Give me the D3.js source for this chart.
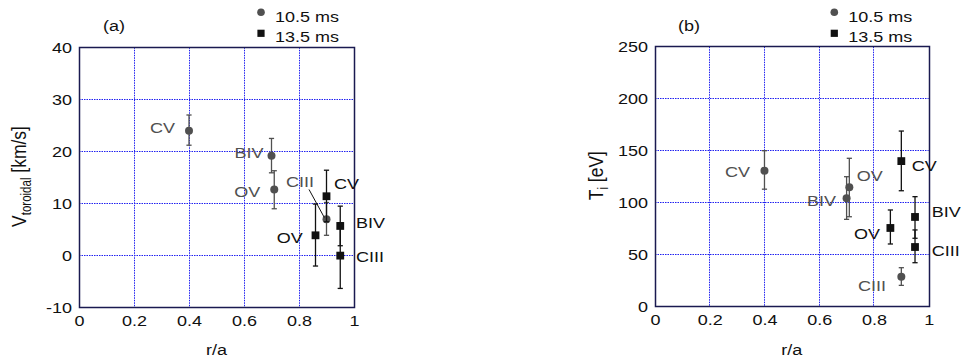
<!DOCTYPE html>
<html><head><meta charset="utf-8">
<script src="https://cdn.jsdelivr.net/npm/d3@7"></script>
<style>
html,body{margin:0;padding:0;background:#fff;}
svg{display:block;font-family:"Liberation Sans",Arial,sans-serif;}
</style></head>
<body><svg id="chart" width="961" height="361"></svg>
<script>
// ---------------- data ----------------
const species = ["CV", "BIV", "OV", "CIII"];
const seriesNames = ["10.5 ms", "13.5 ms"];
const xTicks = [0, 0.2, 0.4, 0.6, 0.8, 1];
const yTicksA = [-10, 0, 10, 20, 30, 40];
const yTicksB = [0, 50, 100, 150, 200, 250];

// panel (a): toroidal velocity [km/s]
const aR105  = [0.40, 0.70, 0.71, 0.90];
const aV105  = [24.0, 19.2, 12.7, 7.0];
const aLo105 = [21.2, 15.9, 9.0, 3.9];
const aHi105 = [27.0, 22.5, 16.3, 10.2];
const aR135  = [0.90, 0.95, 0.86, 0.95];
const aV135  = [11.4, 5.7, 3.9, 0.0];
const aLo135 = [6.5, 1.9, -2.0, -6.3];
const aHi135 = [16.4, 9.5, 9.9, 6.3];

// panel (b): ion temperature [eV]
const bR105  = [0.40, 0.70, 0.71, 0.90];
const bT105  = [130.8, 104.2, 114.8, 28.9];
const bLo105 = [113.0, 84.0, 86.5, 20.5];
const bHi105 = [150.0, 125.0, 142.7, 37.5];
const bR135  = [0.90, 0.95, 0.86, 0.95];
const bT135  = [140.0, 86.3, 75.7, 57.4];
const bLo135 = [111.5, 65.8, 60.3, 42.3];
const bHi135 = [168.9, 105.8, 93.0, 73.8];

// ---------------- layout (label placement, px offsets) ----------------
const labA105 = [[-14,-2.6,"end"],[-8,-3,"end"],[-14,3,"end"],[-26.5,-37.3,"middle"]];
const labA135 = [[7.5,-12,"start"],[15.7,-2.7,"start"],[-12.8,3,"end"],[15.7,1.4,"start"]];
const labB105 = [[-14.5,1,"end"],[-10.6,2.4,"end"],[7.4,-11.6,"start"],[-15.3,9,"end"]];
const labB135 = [[10.4,4.7,"start"],[16.7,-4.6,"start"],[-10.4,6.3,"end"],[16.7,3.7,"start"]];

const GREY = "#505050", BLACK = "#111111", GRID = "#2020f0";
const SX = 1.2, FS = 15;
const fmt = d => d3.format("~g")(d).replace("\u2212", "-");
const snap = v => Math.round(v - 0.5) + 0.5;

const svg = d3.select("#chart");

function stext(g, x, y, str, anchor, color, baseline) {
  return g.append("text")
    .attr("transform", `translate(${x},${y}) scale(${SX},1)`)
    .attr("text-anchor", anchor || "start")
    .attr("dominant-baseline", baseline || "auto")
    .attr("font-size", FS)
    .attr("fill", color || BLACK)
    .text(str);
}

function panel(cfg) {
  const g = svg.append("g");
  const x = d3.scaleLinear().domain([0, 1]).range([cfg.left, cfg.right]);
  const y = d3.scaleLinear().domain(cfg.yDomain).range([cfg.bottom, cfg.top]);

  // grid
  g.append("g").selectAll("line").data(xTicks.slice(1, -1)).join("line")
    .attr("x1", d => snap(x(d))).attr("x2", d => snap(x(d)))
    .attr("y1", cfg.top).attr("y2", cfg.bottom)
    .attr("stroke", GRID).attr("stroke-width", 1).attr("stroke-dasharray", "1.5,1");
  g.append("g").selectAll("line").data(cfg.yTicks.slice(1, -1)).join("line")
    .attr("y1", d => snap(y(d))).attr("y2", d => snap(y(d)))
    .attr("x1", cfg.left).attr("x2", cfg.right)
    .attr("stroke", GRID).attr("stroke-width", 1).attr("stroke-dasharray", "1.5,1");

  // frame
  g.append("rect").attr("x", snap(cfg.left)).attr("y", snap(cfg.top))
    .attr("width", Math.round(cfg.right - cfg.left)).attr("height", Math.round(cfg.bottom - cfg.top))
    .attr("fill", "none").attr("stroke", "#1a1a50").attr("stroke-width", 1.5);

  // axes (labels only)
  const ax = g.append("g").attr("transform", `translate(0,${cfg.bottom})`)
    .call(d3.axisBottom(x).tickValues(xTicks).tickFormat(fmt).tickSize(0).tickPadding(7.5));
  const ay = g.append("g").attr("transform", `translate(${cfg.left},0)`)
    .call(d3.axisLeft(y).tickValues(cfg.yTicks).tickFormat(fmt).tickSize(0).tickPadding(0));
  [ax, ay].forEach(a => {
    a.select(".domain").remove();
    a.selectAll("text").attr("font-size", FS).attr("fill", BLACK)
      .attr("font-family", "Liberation Sans, Arial, sans-serif");
  });
  ax.selectAll("text").attr("transform", `scale(${SX},1)`);
  ay.selectAll("text").attr("x", -7 / SX).attr("transform", `scale(${SX},1)`);

  // series
  const drawSeries = (rs, vs, lo, hi, labs, color, shape) => {
    const sg = g.append("g");
    rs.forEach((r, i) => {
      const px = x(r);
      sg.append("line").attr("x1", px).attr("x2", px).attr("y1", y(lo[i])).attr("y2", y(hi[i]))
        .attr("stroke", color).attr("stroke-width", 1.3);
      [lo[i], hi[i]].forEach(v => sg.append("line")
        .attr("x1", px - 2.6).attr("x2", px + 2.6).attr("y1", y(v)).attr("y2", y(v))
        .attr("stroke", color).attr("stroke-width", 1.3));
    });
    rs.forEach((r, i) => {
      const px = x(r), py = y(vs[i]);
      if (shape === "circle") sg.append("circle").attr("cx", px).attr("cy", py).attr("r", 4).attr("fill", color);
      else sg.append("rect").attr("x", px - 3.9).attr("y", py - 3.9).attr("width", 7.8).attr("height", 7.8).attr("fill", color);
      const L = labs[i];
      stext(sg, px + L[0], py + L[1], species[i], L[2], color, "central");
    });
  };
  drawSeries(cfg.r105, cfg.v105, cfg.lo105, cfg.hi105, cfg.lab105, GREY, "circle");
  drawSeries(cfg.r135, cfg.v135, cfg.lo135, cfg.hi135, cfg.lab135, BLACK, "square");
  if (cfg.leader) {
    const i = 3, px = x(cfg.r105[i]), py = y(cfg.v105[i]);
    g.append("line").attr("x1", px - 17.5).attr("y1", py - 29.7).attr("x2", px - 2.2).attr("y2", py - 1.7)
      .attr("stroke", BLACK).attr("stroke-width", 1);
  }

  // legend
  g.append("circle").attr("cx", cfg.legX).attr("cy", 12.3).attr("r", 3.8).attr("fill", GREY);
  stext(g, cfg.legX + 14, 21.7, seriesNames[0], "start", BLACK);
  g.append("rect").attr("x", cfg.legX - 3.6).attr("y", 33.3 - 3.6).attr("width", 7.2).attr("height", 7.2).attr("fill", BLACK);
  stext(g, cfg.legX + 14, 41.7, seriesNames[1], "start", BLACK);

  // panel label
  stext(g, cfg.tagX, 31.3, cfg.tag, "start", BLACK);

  // x label
  stext(g, (cfg.left + cfg.right) / 2, 354.5, "r/a", "middle", BLACK);

  // y label
  const yl = g.append("text")
    .attr("transform", `translate(${cfg.yLabX},${(cfg.top + cfg.bottom) / 2 - 1}) scale(${SX},1) rotate(-90)`)
    .attr("text-anchor", "middle").attr("font-size", 17.5).attr("fill", BLACK);
  yl.append("tspan").text(cfg.yMain);
  yl.append("tspan").attr("font-size", 11.5).attr("dy", 4.5).text(cfg.ySub);
  yl.append("tspan").attr("dy", -4.5).text(cfg.yUnit);
}

panel({
  left: 79, right: 354, top: 47.3, bottom: 307.7, yDomain: [-10, 40], yTicks: yTicksA,
  r105: aR105, v105: aV105, lo105: aLo105, hi105: aHi105, lab105: labA105,
  r135: aR135, v135: aV135, lo135: aLo135, hi135: aHi135, lab135: labA135,
  leader: true, legX: 261, tag: "(a)", tagX: 103, yLabX: 26,
  yMain: "V", ySub: "toroidal", yUnit: " [km/s]"
});
panel({
  left: 655, right: 928.7, top: 46.7, bottom: 306.7, yDomain: [0, 250], yTicks: yTicksB,
  r105: bR105, v105: bT105, lo105: bLo105, hi105: bHi105, lab105: labB105,
  r135: bR135, v135: bT135, lo135: bLo135, hi135: bHi135, lab135: labB135,
  leader: false, legX: 834.3, tag: "(b)", tagX: 678, yLabX: 603,
  yMain: "T", ySub: "i", yUnit: " [eV]"
});
</script>
</body></html>
